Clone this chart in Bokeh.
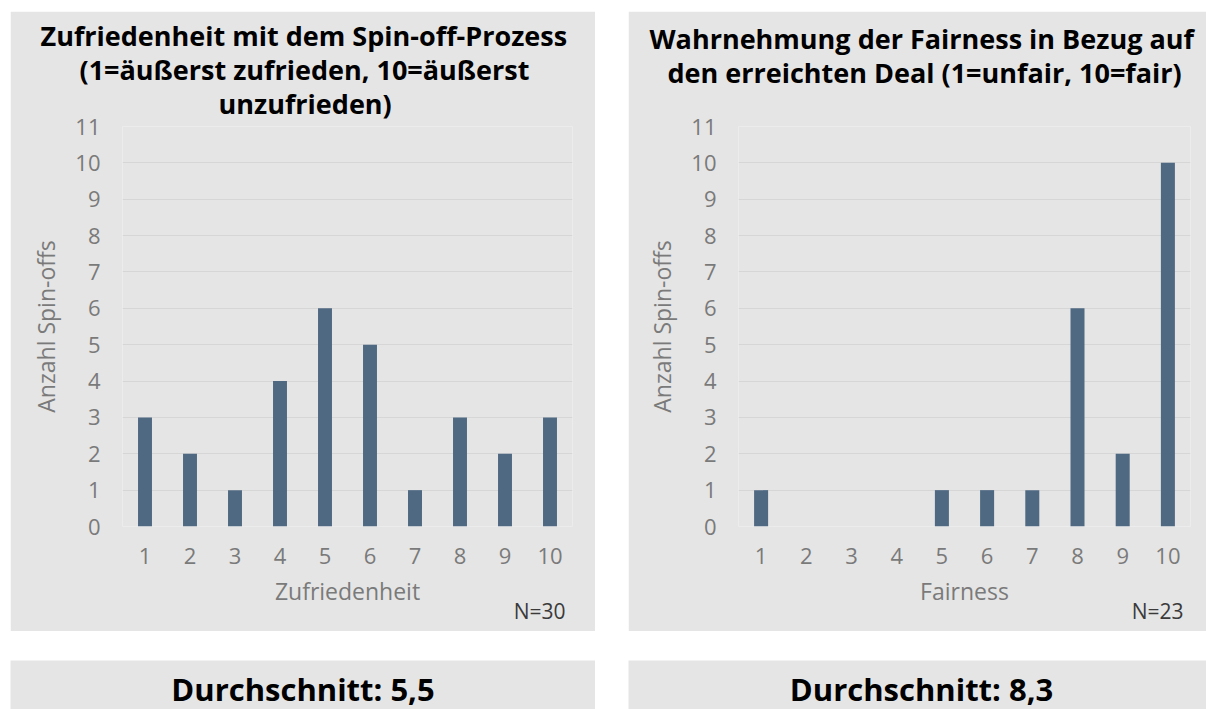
from bokeh.plotting import figure
from bokeh.models import Range1d, FixedTicker, Spacer, ColumnDataSource, Title
from bokeh.layouts import row, column
from bokeh.embed import file_html
from bokeh.resources import INLINE
from bokeh.core.properties import value

# ---- data ----
categories = [1, 2, 3, 4, 5, 6, 7, 8, 9, 10]
zufriedenheit_counts = [3, 2, 1, 4, 6, 5, 1, 3, 2, 3]
fairness_counts = [1, 0, 0, 0, 1, 1, 1, 6, 2, 10]
y_ticks = list(range(0, 12))
title_left = ["Zufriedenheit mit dem Spin-off-Prozess",
              "(1=äußerst zufrieden, 10=äußerst",
              "unzufrieden)"]
title_right = ["Wahrnehmung der Fairness in Bezug auf",
               "den erreichten Deal (1=unfair, 10=fair)"]
xlabel_left = "Zufriedenheit"
xlabel_right = "Fairness"
ylabel = "Anzahl Spin-offs"
n_left = "N=30"
n_right = "N=23"
avg_left = "Durchschnitt: 5,5"
avg_right = "Durchschnitt: 8,3"

BG = "#e5e5e5"
BAR = "#4f6982"
GRID = "#d6d6d6"
TICK = "#7a7a7a"
FONT = "Open Sans"

# layout of the title lines: (horizontal offset from frame left, standoff, vertical align)
left_title_layout = [(-82, 7, "middle"), (-43, -17, "middle"), (96, 7, "middle")]
right_title_layout = [(-89, -76, "bottom"), (-71, 69, "middle")]


def panel(counts, titles, tlayout, xlabel, ntext, width, left, right):
    p = figure(width=width, height=620, output_backend="svg", toolbar_location=None,
               x_range=Range1d(0.5, 10.5), y_range=Range1d(0, 11),
               min_border_left=left, min_border_right=right,
               min_border_top=115, min_border_bottom=105,
               background_fill_color=BG, border_fill_color=BG, outline_line_color=None)
    src = ColumnDataSource(dict(x=categories, top=counts))
    p.vbar(x="x", top="top", bottom=0, width=0.31, source=src,
           fill_color=BAR, line_color=None)
    p.xgrid.grid_line_color = None
    p.ygrid.grid_line_color = GRID
    p.ygrid.grid_line_width = 1
    p.yaxis.ticker = FixedTicker(ticks=y_ticks)
    p.xaxis.ticker = FixedTicker(ticks=categories)
    for ax in (p.xaxis[0], p.yaxis[0]):
        ax.axis_line_color = None
        ax.major_tick_line_color = None
        ax.minor_tick_line_color = None
        ax.major_label_text_font = FONT
        ax.major_label_text_font_size = "22px"
        ax.major_label_text_color = TICK
        ax.axis_label_text_font = FONT
        ax.axis_label_text_font_size = "23px"
        ax.axis_label_text_color = TICK
        ax.axis_label_text_font_style = "normal"
    p.yaxis.axis_label = ylabel
    p.xaxis.axis_label = xlabel
    p.yaxis.major_label_standoff = 16
    p.yaxis.axis_label_standoff = 10
    p.xaxis.major_label_standoff = 15
    p.xaxis.axis_label_standoff = 8
    # title lines, nearest to the frame first
    for t, (off, so, va) in reversed(list(zip(titles, tlayout))):
        p.add_layout(Title(text=t, align="left", offset=off, standoff=so,
                           vertical_align=va,
                           text_font=FONT, text_font_style="bold",
                           text_font_size="27px", text_color="#000000"), "above")
    p.add_layout(Title(text=ntext, align="right", offset=7, standoff=-26,
                       vertical_align="top",
                       text_font=FONT, text_font_style="normal",
                       text_font_size="21px", text_color="#3a3a3a"), "below")
    return p


def avg_box(text, width, xc):
    b = figure(width=width, height=49, output_backend="svg", toolbar_location=None,
               x_range=Range1d(0, 1), y_range=Range1d(0, 1), min_border=0,
               background_fill_color=BG, border_fill_color=BG, outline_line_color=None)
    b.axis.visible = False
    b.grid.visible = False
    b.text(x=[xc], y=[1 - 28 / 49.0], text=[text], text_align="center",
           text_baseline="middle", text_font=value(FONT), text_font_style="bold",
           text_font_size="31px", text_color="#000000")
    return b


p1 = panel(zufriedenheit_counts, title_left, left_title_layout, xlabel_left, n_left, 585, 112, 23)
p2 = panel(fairness_counts, title_right, right_title_layout, xlabel_right, n_right, 578, 110, 16)
b1 = avg_box(avg_left, 585, 0.5)
b2 = avg_box(avg_right, 578, 0.507)

layout = column(
    Spacer(height=11),
    row(Spacer(width=10), p1, Spacer(width=33), p2),
    Spacer(height=29),
    row(Spacer(width=10), b1, Spacer(width=33), b2),
)

open("out.html", "w").write(file_html(layout, INLINE))
